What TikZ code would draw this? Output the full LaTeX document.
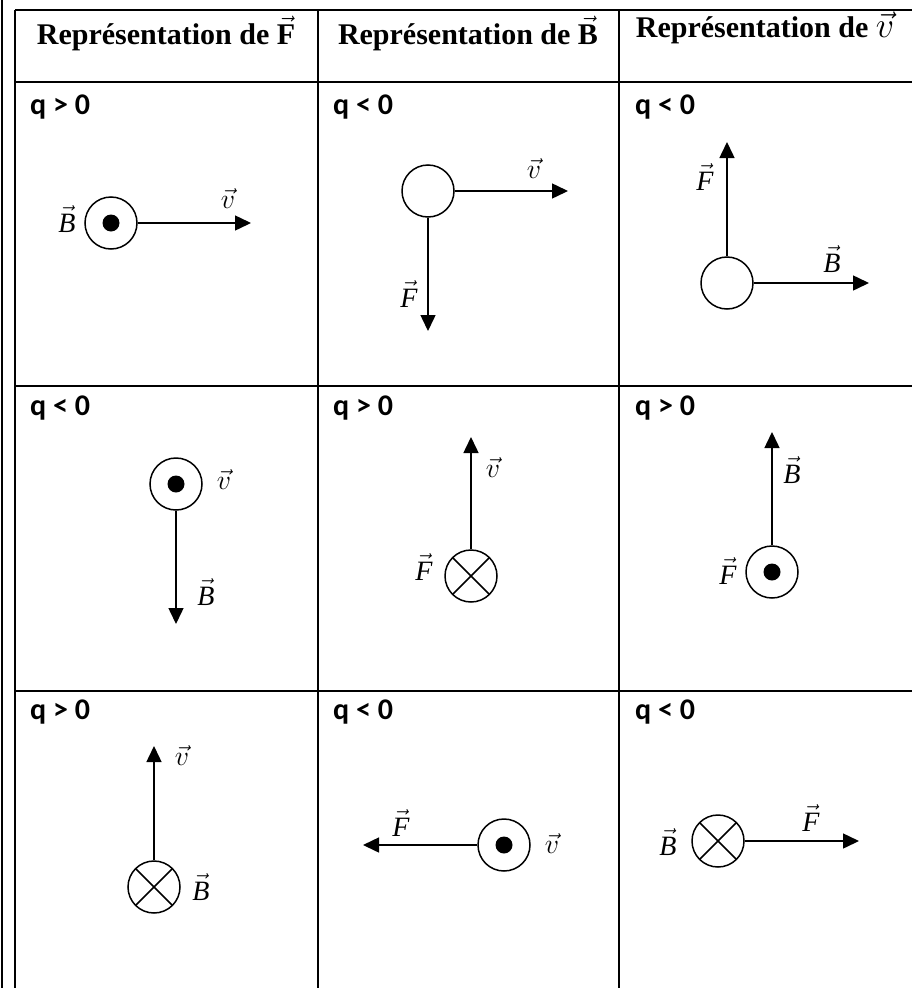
\RequirePackage{fix-cm}
\documentclass[tikz,border=0pt]{standalone}
\usepackage{fontspec}
\setmainfont{Liberation Serif}
\newfontfamily\calib{Carlito}
\usetikzlibrary{arrows.meta}
\newcommand{\signe}[3]{\node[signe] (#1) at (#2) {#3}}
\newcommand{\trait}[2]{\draw[bordure] (#1) -- (#2)}
\newcommand{\vB}{$\vec{\textit{B}}$}
\newcommand{\vF}{$\vec{\textit{F}}$}
\newcommand{\vv}{$\vec{v}$}
\tikzset{
	bordure/.style={line width=2pt},
	entete/.style={font=\fontsize{30}{36}\selectfont\bfseries, anchor=base, inner sep=0pt},
	signe/.style={font=\calib\bfseries\fontsize{30}{36}\selectfont, anchor=base west, inner sep=0pt},
	lab/.style={font=\fontsize{28}{34}\selectfont, inner sep=0pt},
	part/.style={circle, draw, line width=1.5pt, minimum size=52pt, inner sep=0pt},
	sortant/.style={part, path picture={\fill (path picture bounding box.center) circle (8.5pt);}},
	entrant/.style={part, path picture={
		\draw[line width=1.5pt] ([shift={(45:30pt)}]path picture bounding box.center) -- ([shift={(225:30pt)}]path picture bounding box.center);
		\draw[line width=1.5pt] ([shift={(135:30pt)}]path picture bounding box.center) -- ([shift={(-45:30pt)}]path picture bounding box.center);}},
	vect/.style={line width=1.5pt, -{Triangle[length=16pt,width=15pt]}},
}
\begin{document}
\begin{tikzpicture}[x=1pt,y=-1pt]
	\useasboundingbox (0,0) rectangle (912,988);
	\coordinate (g0) at (1.5,0);
	\coordinate (g1) at (1.5,988);
	\coordinate (t0) at (15,10);
	\coordinate (t1) at (912,10);
	\coordinate (t2) at (15,988);
	\trait{g0}{g1};
	\trait{t0}{t1};
	\trait{t0}{t2};
	\foreach \x [count=\i] in {318,619}{
		\coordinate (ch\i) at (\x,10);
		\coordinate (cb\i) at (\x,988);
		\trait{ch\i}{cb\i};
	}
	\foreach \y [count=\i] in {82,386,691}{
		\coordinate (lg\i) at (15,\y);
		\coordinate (ld\i) at (912,\y);
		\trait{lg\i}{ld\i};
	}
	\node[entete] (h1) at (166,44) {Représentation de $\vec{\textbf{F}}$};
	\node[entete] (h2) at (468,44) {Représentation de $\vec{\textbf{B}}$};
	\node[entete] (h3) at (765,37) {Représentation de {\fontsize{36}{40}\selectfont$\vec{v}$}};
	\signe{q11}{30,114}{q > 0};
	\signe{q12}{333,114}{q < 0};
	\signe{q13}{635,114}{q < 0};
	\signe{q21}{30,415}{q < 0};
	\signe{q22}{333,415}{q > 0};
	\signe{q23}{635,415}{q > 0};
	\signe{q31}{30,719}{q > 0};
	\signe{q32}{333,719}{q < 0};
	\signe{q33}{635,719}{q < 0};
	\node[sortant] (p11) at (111,223) {};
	\coordinate (e11) at (251,223);
	\draw[vect] (p11) -- (e11);
	\node[lab] (B11) at (67,219) {\vB};
	\node[lab] (v11) at (228,199) {\vv};
	\node[part] (p12) at (428,191) {};
	\coordinate (e12) at (568,191);
	\coordinate (f12) at (428,331);
	\draw[vect] (p12) -- (e12);
	\draw[vect] (p12) -- (f12);
	\node[lab] (v12) at (534,169) {\vv};
	\node[lab] (F12) at (409,294) {\vF};
	\node[part] (p13) at (727,283) {};
	\coordinate (f13) at (727,142);
	\coordinate (e13) at (869,283);
	\draw[vect] (p13) -- (f13);
	\draw[vect] (p13) -- (e13);
	\node[lab] (F13) at (705,177) {\vF};
	\node[lab] (B13) at (832,259) {\vB};
	\node[sortant] (p21) at (176,484) {};
	\coordinate (e21) at (176,624);
	\draw[vect] (p21) -- (e21);
	\node[lab] (v21) at (224,480) {\vv};
	\node[lab] (B21) at (206,592) {\vB};
	\node[entrant] (p22) at (471,576) {};
	\coordinate (e22) at (471,437);
	\draw[vect] (p22) -- (e22);
	\node[lab] (v22) at (493,468) {\vv};
	\node[lab] (F22) at (424,567) {\vF};
	\node[sortant] (p23) at (772,572) {};
	\coordinate (e23) at (772,432);
	\draw[vect] (p23) -- (e23);
	\node[lab] (B23) at (792,470) {\vB};
	\node[lab] (F23) at (728,571) {\vF};
	\node[entrant] (p31) at (154,887) {};
	\coordinate (e31) at (154,746);
	\draw[vect] (p31) -- (e31);
	\node[lab] (v31) at (182,756) {\vv};
	\node[lab] (B31) at (201,887) {\vB};
	\node[sortant] (p32) at (504,845) {};
	\coordinate (e32) at (363,845);
	\draw[vect] (p32) -- (e32);
	\node[lab] (F32) at (401,823) {\vF};
	\node[lab] (v32) at (552,844) {\vv};
	\node[entrant] (p33) at (718,841) {};
	\coordinate (e33) at (859,841);
	\draw[vect] (p33) -- (e33);
	\node[lab] (B33) at (668,842) {\vB};
	\node[lab] (F33) at (811,818) {\vF};
\end{tikzpicture}
\end{document}
